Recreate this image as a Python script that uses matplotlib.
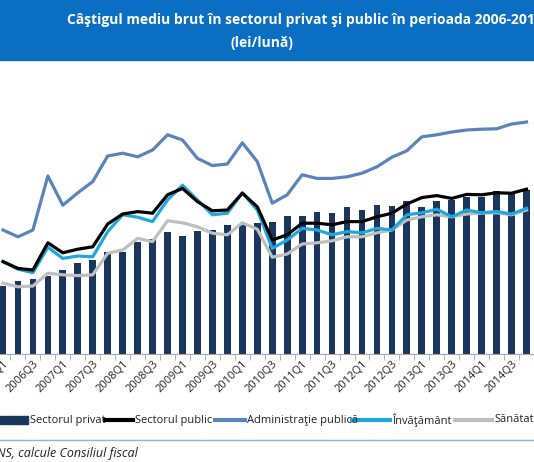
import matplotlib
matplotlib.use("Agg")
import matplotlib.pyplot as plt
from matplotlib.lines import Line2D
from matplotlib.patches import Rectangle

quarters = [f"{y}Q{q}" for y in range(2006, 2015) for q in range(1, 5)]
privat = [850, 910, 940, 975, 1050, 1140, 1170, 1275, 1275, 1405, 1435, 1520, 1480, 1540, 1555, 1610,
          1615, 1640, 1650, 1725, 1725, 1780, 1765, 1835, 1800, 1865, 1850, 1915, 1840, 1915, 1925, 1965,
          1960, 2035, 2030, 2050]
public = [1155, 1070, 1050, 1390, 1265, 1310, 1340, 1625, 1750, 1780, 1760, 1990, 2070, 1905, 1790, 1800,
          2010, 1840, 1425, 1490, 1635, 1635, 1615, 1655, 1655, 1715, 1760, 1875, 1955, 1980, 1945, 1995,
          1990, 2015, 2010, 2060]
admin = [1550, 1465, 1550, 2225, 1860, 2015, 2155, 2475, 2510, 2465, 2550, 2740, 2675, 2445, 2355, 2375,
         2640, 2405, 1885, 1990, 2240, 2195, 2195, 2215, 2260, 2340, 2460, 2540, 2715, 2740, 2775, 2800,
         2810, 2815, 2875, 2900]
edu = [1155, 1060, 1017, 1335, 1195, 1225, 1215, 1530, 1740, 1710, 1655, 1925, 2110, 1925, 1740, 1760,
       2015, 1800, 1320, 1425, 1570, 1550, 1490, 1530, 1515, 1570, 1550, 1740, 1765, 1810, 1715, 1800,
       1765, 1780, 1750, 1820]
health = [885, 840, 850, 1010, 990, 980, 990, 1260, 1300, 1445, 1405, 1665, 1640, 1590, 1510, 1490,
          1640, 1560, 1210, 1250, 1375, 1390, 1415, 1465, 1465, 1515, 1550, 1675, 1715, 1740, 1715, 1750,
          1760, 1765, 1740, 1800]
names = ["Sectorul privat", "Sectorul public", "Administraţie publică", "Învăţământ", "Sănătate"]
colors = ["#1B365D", "#000000", "#5B84B8", "#1FA8E0", "#BFBFBF"]

plt.rcParams["font.family"] = ["Open Sans", "DejaVu Sans"]
W, H = 534, 462
fig = plt.figure(figsize=(W/100, H/100), dpi=100)
fig.patch.set_facecolor("white")

def fy(p):
    return 1 - p / H

def fx(p):
    return p / W

fig.patches.append(Rectangle((0, fy(60)), 1, 60/H, transform=fig.transFigure,
                             color="#0A6FC2", zorder=0))
fig.text(fx(67), fy(20), "Câştigul mediu brut în sectorul privat şi public în perioada 2006-2014",
         color="white", fontsize=10, fontweight="bold", va="center", ha="left")
fig.text(fx(262), fy(43), "(lei/lună)", color="white", fontsize=10, fontweight="bold",
         va="center", ha="center")

ax = fig.add_axes([0, fy(354), 1, (354 - 65) / H])
x = list(range(len(quarters)))
ax.bar(x, privat, width=0.45, color=colors[0], zorder=2)
series = [public, admin, edu, health]
for s, c, z in zip(series, colors[1:], [5, 3, 4, 3]):
    ax.plot(x, s, color=c, lw=2.3, zorder=z)
ax.set_xlim(-0.2, -0.2 + W / 15)
ax.set_ylim(0, (354 - 65) * 12.5)
for sp in ["top", "right", "left"]:
    ax.spines[sp].set_visible(False)
ax.spines["bottom"].set_color("#A6A6A6")
ax.set_yticks([])
ax.set_xticks([i + 0.5 for i in x], minor=True)
ax.tick_params(axis="x", which="minor", length=4, color="#A6A6A6")
ax.set_xticks(x[::2])
ax.set_xticklabels(quarters[::2], rotation=45, ha="right", rotation_mode="anchor",
                   fontsize=8, color="#222222")
ax.tick_params(axis="x", which="major", length=0, pad=3)

# legend
ly = fy(420)
items = [(0, 28, 30), (105, 133, 135), (215, 245, 247), (352, 390, 392), (455, 492, 494)]
for i, (x0, x1, tx) in enumerate(items):
    if i == 0:
        fig.patches.append(Rectangle((fx(x0), fy(424)), fx(x1 - x0), 8/H,
                                     transform=fig.transFigure, color=colors[0]))
    else:
        fig.lines.append(Line2D([fx(x0), fx(x1)], [ly, ly], transform=fig.transFigure,
                                color=colors[i], lw=3))
    fig.text(fx(tx), ly, names[i], fontsize=8, va="center", ha="left", color="#222222")

fig.lines.append(Line2D([0, 1], [fy(440), fy(440)], transform=fig.transFigure,
                        color="#9DB3C8", lw=1))
fig.text(fx(-44), fy(453), "Sursa: INS, calcule Consiliul fiscal", fontsize=9,
         style="italic", va="center", ha="left", color="#222222")

fig.savefig("out.png", dpi=100)
